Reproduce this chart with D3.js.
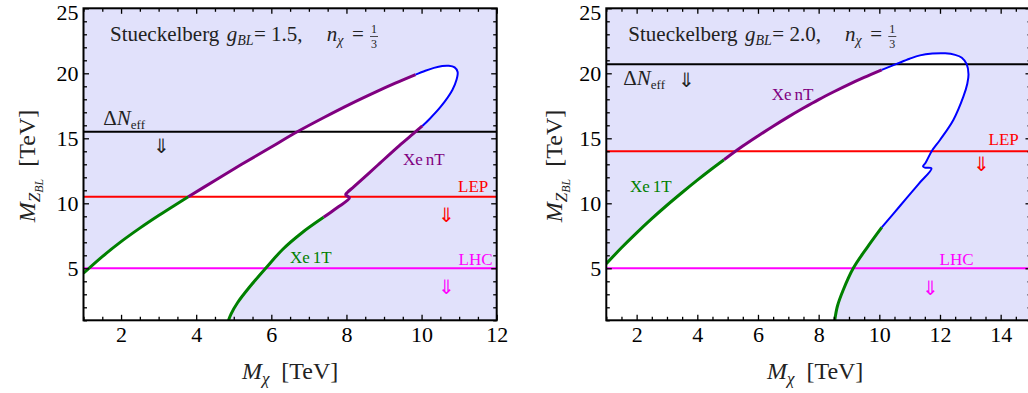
<!DOCTYPE html>
<html><head><meta charset="utf-8">
<script src="https://cdn.jsdelivr.net/npm/d3@7"></script>
<style>body{margin:0;background:#fff}svg{display:block}</style>
</head><body><svg id="c" width="1028" height="393"></svg>
<script>
// ---------- data ----------
// Left panel: g_BL = 1.5
const leftXe1tUpper = [[1.0,4.62],[1.5,5.9],[2.0,7.05],[2.5,8.09],[3.0,9.06],[3.4,9.8],[3.79,10.5]];
const leftXenTUpper = [[3.79,10.5],[4.5,11.76],[5.2,12.98],[6.0,14.33],[6.69,15.5],[7.4,16.6],[8.1,17.63],[8.8,18.59],[9.3,19.24],[9.84,19.9]];
const leftBlue = [[9.84,19.9],[10.1,20.2],[10.33,20.42],[10.55,20.56],[10.72,20.58],[10.88,20.46],[10.96,20.1],[10.93,19.5],[10.82,18.72],[10.51,17.43],[10.2,16.45],[10.02,15.95]];
const leftXenTLower = [[10.02,15.95],[9.79,15.38],[9.4,14.42],[8.8,12.85],[8.2,11.28],[8.03,10.85],[7.98,10.66],[8.08,10.42],[7.75,9.66],[7.39,8.92]];
const leftXe1tLower = [[7.39,8.92],[6.8,7.7],[6.3,6.45],[5.85,5.0],[5.41,3.52],[5.1,2.35],[4.93,1.5],[4.86,1.0]];
const leftBounds = [15.5, 10.5, 5.0];           // ΔNeff, LEP, LHC
const leftXTicks = [2,4,6,8,10,12];

// Right panel: g_BL = 2.0
const rightXe1tUpper = [[1.0,5.35],[1.5,6.58],[2.0,7.73],[2.5,8.82],[3.0,9.85],[3.5,10.83],[4.0,11.78],[4.44,12.58],[4.88,13.35]];
const rightXenTUpper = [[4.88,13.35],[5.5,14.4],[6.0,15.18],[6.5,15.93],[7.0,16.65],[7.5,17.33],[8.0,17.98],[8.5,18.58],[9.0,19.15],[9.5,19.68],[10.08,20.26]];
const rightBlue = [[10.08,20.26],[10.57,20.72],[11.0,21.12],[11.34,21.38],[11.75,21.52],[12.17,21.54],[12.5,21.42],[12.72,21.2],[12.88,20.7],[12.94,19.9],[12.9,19.2],[12.77,18.2],[12.44,16.41],[12.0,14.87],[11.73,14.02],[11.52,13.1],[11.44,12.84],[11.5,12.74],[11.72,12.68],[11.3,11.5],[10.7,9.85],[10.08,8.15]];
const rightXe1tLower = [[10.08,8.15],[9.58,6.54],[9.14,5.0],[8.81,3.33],[8.62,2.1],[8.53,1.0]];
const rightBounds = [20.7, 14.0, 5.0];          // ΔNeff, LEP, LHC
const rightXTicks = [2,4,6,8,10,12,14];

const yTicks = [5,10,15,20,25];
const boundNames = ["ΔNeff","LEP","LHC"];
const couplings = ["1.5","2.0"];

// ---------- drawing ----------
const svg = d3.select("#c");
const SERIF = "'Liberation Serif','Times New Roman',serif";
const LAV = "#e1e1fb";
const boundColors = ["#000000","#ff0000","#ff00ff"];
const segColors = {xe1t:"#008000", xent:"#800080", blue:"#0000ff"};
const segWidths = {xe1t:3, xent:3, blue:2};

function panel(cfg){
  const g = svg.append("g");
  const x = d3.scaleLinear().domain(cfg.xDomain).range(cfg.xRange);
  const y = d3.scaleLinear().domain([1,25]).range([320.3, 8.3]);
  const [x0,x1] = cfg.xRange, y0 = y(25), y1 = y(1);
  const cid = "clip"+cfg.id;
  svg.append("defs").append("clipPath").attr("id",cid)
    .append("rect").attr("x",x0).attr("y",y0).attr("width",x1-x0).attr("height",y1-y0);
  const pg = g.append("g").attr("clip-path",`url(#${cid})`);
  pg.append("rect").attr("x",x0).attr("y",y0).attr("width",x1-x0).attr("height",y1-y0).attr("fill",LAV);

  const line = d3.line().x(d=>x(d[0])).y(d=>y(d[1])).curve(d3.curveCatmullRom.alpha(0.5));
  let fillPath = "";
  cfg.segments.forEach((s,i)=>{ let d = line(s.pts); if(i>0) d = "L"+d.slice(1); fillPath += d; });
  fillPath += `L${x(1)},${y(1)}Z`;
  pg.append("path").attr("d",fillPath).attr("fill","#fff");

  cfg.bounds.forEach((b,i)=>{
    pg.append("line").attr("x1",x0).attr("x2",x1).attr("y1",y(b)).attr("y2",y(b))
      .attr("stroke",boundColors[i]).attr("stroke-width",2);
  });
  cfg.segments.forEach(s=>{
    pg.append("path").attr("d",line(s.pts)).attr("fill","none")
      .attr("stroke",segColors[s.kind]).attr("stroke-width",segWidths[s.kind])
      .attr("stroke-linejoin","round");
  });

  // axes (ticks inward on all four sides)
  const xMinor = d3.range(cfg.xDomain[0], cfg.xDomain[1]+0.01, 0.5).filter(v=>v%2!==0);
  const yMinor = d3.range(1, 25.01, 1).filter(v=>v%5!==0);
  const style = a => { a.select(".domain").remove(); a.selectAll("line").attr("stroke","#000").attr("stroke-width",1.3);
    a.selectAll("text").attr("font-family",SERIF).attr("font-size",22).attr("fill","#000"); };
  const ax = (gen, tr) => { const a = g.append("g").attr("transform",tr).call(gen); style(a); return a; };
  ax(d3.axisBottom(x).tickValues(cfg.xTicks).tickSize(-5.5).tickPadding(6.5).tickFormat(d3.format("d")), `translate(0,${y1})`);
  ax(d3.axisBottom(x).tickValues(xMinor).tickSize(-3.5).tickFormat(""), `translate(0,${y1})`);
  ax(d3.axisTop(x).tickValues(cfg.xTicks).tickSize(-5.5).tickFormat(""), `translate(0,${y0})`);
  ax(d3.axisTop(x).tickValues(xMinor).tickSize(-3.5).tickFormat(""), `translate(0,${y0})`);
  const ya = ax(d3.axisLeft(y).tickValues(yTicks).tickSize(-5.5).tickPadding(5).tickFormat(d3.format("d")), `translate(${x0},0)`);
  ya.selectAll("text").filter(d=>d===25).attr("dy","0.5em");
  ax(d3.axisLeft(y).tickValues(yMinor).tickSize(-3.5).tickFormat(""), `translate(${x0},0)`);
  ax(d3.axisRight(y).tickValues(yTicks).tickSize(-5.5).tickFormat(""), `translate(${x1},0)`);
  ax(d3.axisRight(y).tickValues(yMinor).tickSize(-3.5).tickFormat(""), `translate(${x1},0)`);

  g.append("rect").attr("x",x0).attr("y",y0).attr("width",x1-x0).attr("height",y1-y0)
    .attr("fill","none").attr("stroke","#000").attr("stroke-width",2);

  // axis titles
  const xl = g.append("text").attr("x",(x0+Math.min(x1,1028))/2 + cfg.xlabDx).attr("y",379).attr("text-anchor","middle")
    .attr("font-family",SERIF).attr("font-size",24).attr("fill","#222");
  xl.append("tspan").attr("font-style","italic").text("M");
  xl.append("tspan").attr("font-style","italic").attr("font-size",17).attr("dy",5).text("χ");
  xl.append("tspan").attr("dy",-5).text("\u2002[TeV]");

  const yl = g.append("text").attr("transform",`translate(${cfg.ylabX},166) rotate(-90)`).attr("text-anchor","middle")
    .attr("font-family",SERIF).attr("font-size",24).attr("fill","#222");
  yl.append("tspan").attr("font-style","italic").text("M");
  yl.append("tspan").attr("font-style","italic").attr("font-size",17).attr("dy",5).text("Z");
  yl.append("tspan").attr("font-style","italic").attr("font-size",12).attr("dy",3).text("BL");
  yl.append("tspan").attr("dy",-8).text("\u2002[TeV]");

  // title
  const ox = cfg.titleX;
  const t = g.append("g").attr("font-family",SERIF).attr("fill","#222").attr("font-size",21);
  t.append("text").attr("x",ox).attr("y",41).text("Stueckelberg");
  const gt = t.append("text").attr("x",ox+116.7).attr("y",41);
  gt.append("tspan").attr("font-style","italic").text("g");
  gt.append("tspan").attr("font-style","italic").attr("font-size",14).attr("dy",4).text("BL");
  t.append("text").attr("x",ox+144).attr("y",41).text("= "+cfg.coupling+",");
  const nt = t.append("text").attr("x",ox+216.7).attr("y",41);
  nt.append("tspan").attr("font-style","italic").text("n");
  nt.append("tspan").attr("font-style","italic").attr("font-size",14).attr("dy",4).text("χ");
  t.append("text").attr("x",ox+242).attr("y",41).text("=");
  t.append("text").attr("x",ox+264).attr("y",33).attr("text-anchor","middle").attr("font-size",12).text("1");
  t.append("line").attr("x1",ox+260).attr("x2",ox+268).attr("y1",36.5).attr("y2",36.5).attr("stroke","#222").attr("stroke-width",0.8);
  t.append("text").attr("x",ox+264).attr("y",48).attr("text-anchor","middle").attr("font-size",12).text("3");

  // ΔNeff label
  const dn = g.append("text").attr("x",cfg.dnX).attr("y",cfg.dnY).attr("font-family",SERIF).attr("font-size",21).attr("fill","#222");
  dn.append("tspan").text("Δ");
  dn.append("tspan").attr("font-style","italic").text("N");
  dn.append("tspan").attr("font-size",13).attr("dy",4).text("eff");

  // other labels
  cfg.labels.forEach(l=>{
    const tx = g.append("text").attr("x",l.x).attr("y",l.y).attr("font-family",SERIF).attr("font-size",17).attr("fill",l.c);
    if (l.parts){ tx.append("tspan").text(l.parts[0]); tx.append("tspan").attr("dx",3).text(l.parts[1]); }
    else tx.text(l.t);
  });
  cfg.arrows.forEach(a=>{
    g.append("text").attr("x",a.x).attr("y",a.y).attr("text-anchor","middle")
      .attr("font-family","'DejaVu Sans',sans-serif").attr("font-weight",200)
      .attr("font-size",20).attr("fill",a.c).text("⇓");
  });
}

panel({
  id:"L", xDomain:[1,12], xRange:[83.5,496.7], xTicks:leftXTicks, bounds:leftBounds,
  coupling:couplings[0], titleX:110, ylabX:35, xlabDx:0,
  segments:[{kind:"xe1t",pts:leftXe1tUpper},{kind:"xent",pts:leftXenTUpper},{kind:"blue",pts:leftBlue},
            {kind:"xent",pts:leftXenTLower},{kind:"xe1t",pts:leftXe1tLower}],
  dnX:103.3, dnY:125,
  labels:[{parts:["Xe","nT"],x:403,y:165,c:"#800080"},{t:"LEP",x:458,y:191.5,c:"#ff0000"},
          {parts:["Xe","1T"],x:290,y:262.5,c:"#008000"},{t:"LHC",x:458.5,y:265,c:"#ff00ff"}],
  arrows:[{x:161,y:153,c:"#222"},{x:446,y:222,c:"#ff0000"},{x:446,y:294,c:"#ff00ff"}]
});
panel({
  id:"R", xDomain:[1,15], xRange:[606.3,1031], xTicks:rightXTicks, bounds:rightBounds,
  coupling:couplings[1], titleX:628.3, ylabX:562, xlabDx:-2,
  segments:[{kind:"xe1t",pts:rightXe1tUpper},{kind:"xent",pts:rightXenTUpper},{kind:"blue",pts:rightBlue},
            {kind:"xe1t",pts:rightXe1tLower}],
  dnX:623.3, dnY:85,
  labels:[{parts:["Xe","nT"],x:771.7,y:100,c:"#800080"},{t:"LEP",x:988.5,y:145,c:"#ff0000"},
          {parts:["Xe","1T"],x:630,y:191.5,c:"#008000"},{t:"LHC",x:939.5,y:265,c:"#ff00ff"}],
  arrows:[{x:686.7,y:87,c:"#222"},{x:981.7,y:171,c:"#ff0000"},{x:930.7,y:294.5,c:"#ff00ff"}]
});
</script></body></html>
